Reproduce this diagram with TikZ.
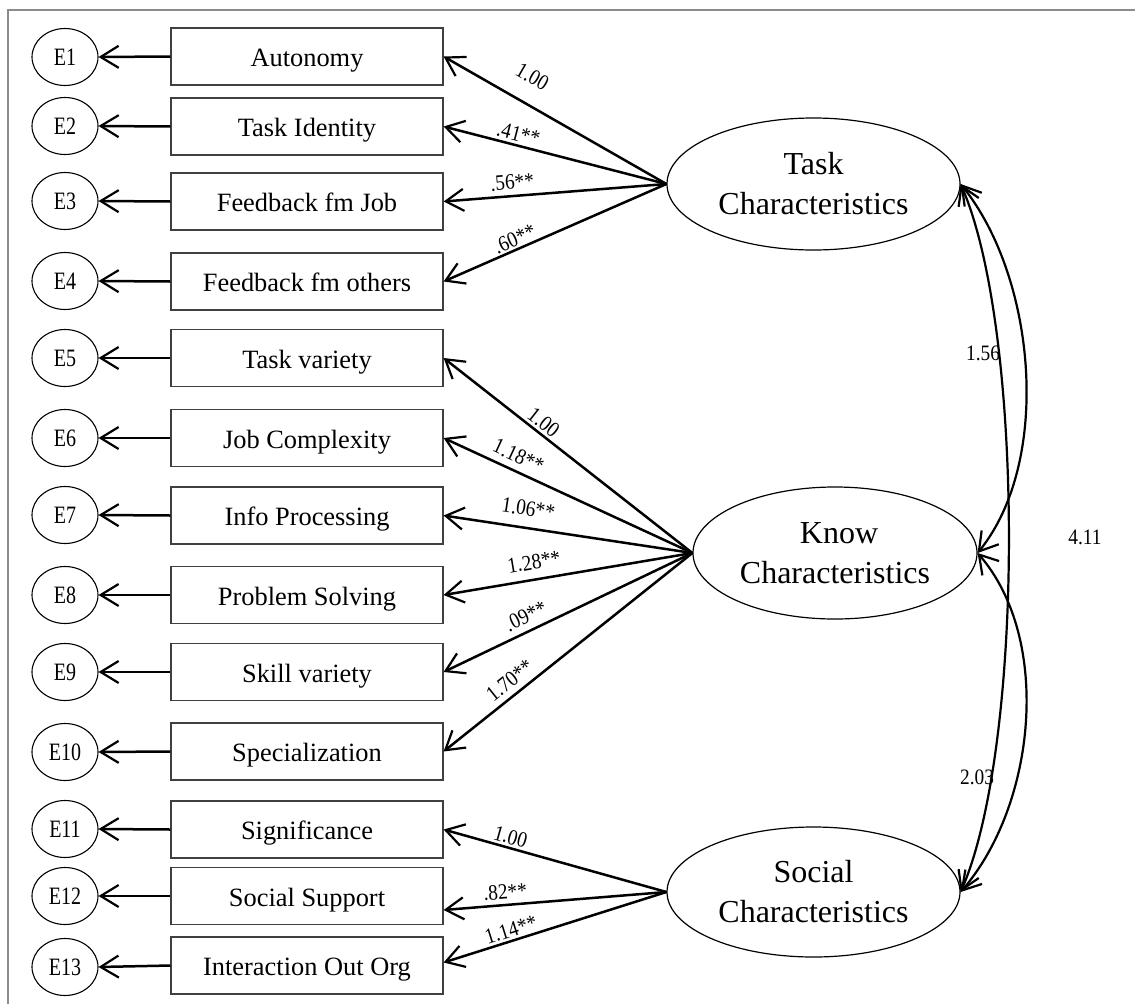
\documentclass[tikz,border=0pt]{standalone}
\usepackage{fontspec}
\setmainfont{Liberation Serif}
\usetikzlibrary{arrows.meta,shapes.geometric}

% narrow setting for small numeric labels
\newcommand{\narrowtext}[1]{\scalebox{0.88}[1]{#1}}

\tikzset{
  obs/.style={draw=black!75, line width=1.2pt, rectangle, minimum width=272pt,
    minimum height=57pt, inner sep=0pt, text height=21pt, text depth=1pt,
    font=\fontsize{26.4}{30}\selectfont},
  err/.style={draw, line width=1.1pt, ellipse, minimum width=66pt,
    minimum height=57pt, inner sep=0pt, text height=17pt, text depth=1pt,
    font=\fontsize{25}{28}\selectfont},
  latent/.style={draw, line width=1.2pt, ellipse, inner sep=0pt, align=center,
    font=\fontsize{32}{40}\selectfont},
  tipb/.tip={Straight Barb[length=18pt,width=22pt,line width=2.2pt]},
  arr/.style={line width=2.5pt, -tipb},
  cov/.style={line width=2.2pt, tipb-tipb},
  lab/.style={sloped, inner sep=0pt, text height=15pt, text depth=0pt,
    font=\fontsize{22}{26}\selectfont},
  covlab/.style={inner sep=0pt, font=\fontsize{22}{26}\selectfont},
}

\begin{document}
\begin{tikzpicture}[x=1pt, y=-1pt]
\useasboundingbox (0,0) rectangle (1135,1004);

% frame
\draw[black!45, line width=1.6pt] (8,1004) -- (8,10) -- (1135,10);

% observed indicators
\foreach \i/\y/\t in {1/56.5/Autonomy, 2/126.5/Task Identity, 3/201.5/Feedback fm Job,
  4/281.5/Feedback fm others, 5/358/Task variety, 6/438/Job Complexity,
  7/515.5/Info Processing, 8/595/Problem Solving, 9/672/Skill variety,
  10/751.5/Specialization, 11/829.5/Significance, 12/896/Social Support,
  13/965.5/Interaction Out Org}
  {\node[obs] (o\i) at (307,\y) {\t};}

% error terms
\foreach \i/\y in {1/57,2/126,3/201,4/281,5/358,6/438,7/515,8/595,9/672,10/752,11/829,12/896,13/967}
  {\node[err] (e\i) at (65,\y) {\scalebox{0.8}[1]{E\i}};}

% latent factors
\node[latent, minimum width=293pt, minimum height=132pt] (task) at (813.5,184) {Task\\Characteristics};
\node[latent, minimum width=284pt, minimum height=132pt] (know) at (835,553) {\hspace*{8pt}Know\\Characteristics};
\node[latent, minimum width=293pt, minimum height=130pt] (social) at (813.5,892) {Social\\Characteristics};

% indicators to error terms
\foreach \i in {1,...,13}
  {\draw[arr] (o\i.west) -- (e\i.east);}

% task loadings
\draw[arr] (task.west) -- node[lab, pos=0.66, above=18pt] {\narrowtext{1.00}} (o1.east);
\draw[arr] (task.west) -- node[lab, pos=0.677, above=3pt] {\narrowtext{.41**}} (o2.east);
\draw[arr] (task.west) -- node[lab, pos=0.687, above=5.5pt] {\narrowtext{.56**}} (o3.east);
\draw[arr] (task.west) -- node[lab, pos=0.662, above=2pt] {\narrowtext{.60**}} (o4.east);

% knowledge loadings
\draw[arr] (know.west) -- node[lab, pos=0.625, above=2.5pt] {\narrowtext{1.00}} (o5.east);
\draw[arr] (know.west) -- node[lab, pos=0.725, above=7pt] {\narrowtext{1.18**}} (o6.east);
\draw[arr] (know.west) -- node[lab, pos=0.671, above=11pt] {\narrowtext{1.06**}} (o7.east);
\draw[arr] (know.west) -- node[lab, pos=0.625, above=9pt] {\narrowtext{1.28**}} (o8.east);
\draw[arr] (know.west) -- node[lab, pos=0.644, above=6.5pt] {\narrowtext{.09**}} (o9.east);
\draw[arr] (know.west) -- node[lab, pos=0.698, above=6pt] {\narrowtext{1.70**}} (o10.east);

% social loadings
\draw[arr] (social.west) -- node[lab, pos=0.713, above=2.5pt] {\narrowtext{1.00}} (o11.east);
\draw[arr] (social.west) -- node[lab, pos=0.719, above=4.5pt] {\narrowtext{.82**}} ([yshift=-14pt]o12.east);
\draw[arr] (social.west) -- node[lab, pos=0.683, above=2.5pt] {\narrowtext{1.14**}} ([yshift=3pt]o13.east);

% covariances
\draw[cov] (task.east) .. controls +(75,93) and +(75,-93) .. (know.east);
\draw[cov] (know.east) .. controls +(75,87) and +(75,-87) .. (social.east);
\draw[cov] (task.east) .. controls +(64,146) and +(64,-146) .. (social.east);

\node[covlab] (c1) at (983,353) {\narrowtext{1.56}};
\node[covlab] (c2) at (977,777) {\narrowtext{2.03}};
\node[covlab] (c3) at (1085,537) {\narrowtext{4.11}};
\end{tikzpicture}
\end{document}
